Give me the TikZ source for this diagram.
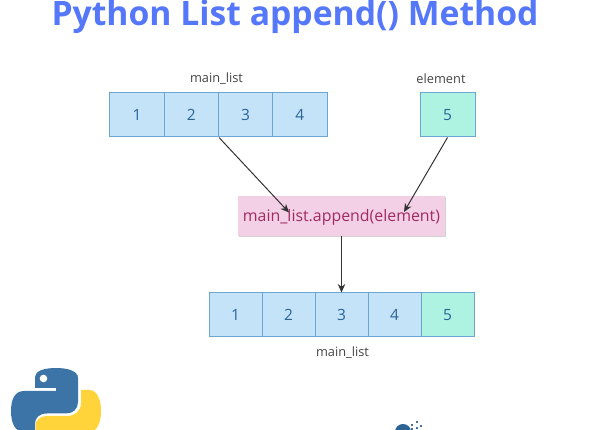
\documentclass[tikz,border=0pt]{standalone}
\usepackage{fontspec}
\setmainfont{Open Sans}
\usetikzlibrary{arrows.meta,shadows}
\definecolor{cellfill}{HTML}{C4E3F9}
\definecolor{celledge}{HTML}{6CA5CF}
\definecolor{celltext}{HTML}{2C6496}
\definecolor{greenfill}{HTML}{AEF2E2}
\definecolor{pinkfill}{HTML}{F4D0E6}
\definecolor{pinktext}{HTML}{A02C62}
\definecolor{titleblue}{HTML}{5577FA}
\definecolor{labeltext}{HTML}{444444}
\definecolor{pyblue}{HTML}{3C74A8}
\definecolor{pyyellow}{HTML}{FFD43B}
\tikzset{
  cellbox/.style={draw=celledge,line width=1pt,fill=cellfill,text=celltext,inner sep=0pt,minimum height=44pt,font=\fontsize{15.5}{18}\selectfont},
  wide/.style={cellbox,minimum width=54.25pt},
  narrow/.style={cellbox,minimum width=53pt},
  greencell/.style={fill=greenfill},
  listlabel/.style={text=labeltext,font=\fontsize{12.8}{15}\selectfont},
  callbox/.style={fill=pinkfill,text=pinktext,inner sep=0pt,minimum width=207pt,minimum height=40pt,font=\fontsize{15.9}{18}\selectfont,
    drop shadow={shadow xshift=0.6pt,shadow yshift=-1.5pt,fill=black!35,opacity=0.5}},
  flow/.style={draw=black!80,line width=1pt,-{Stealth[length=8.5pt,width=7.5pt]}},
  titletext/.style={text=titleblue,font=\bfseries\fontsize{33.7}{38}\selectfont}
}
\begin{document}
\begin{tikzpicture}[x=1pt,y=-1pt]
\useasboundingbox (0,0) rectangle (590,430);
\clip (0,0) rectangle (590,430);
\node[titletext,anchor=base] (title) at (295,26) {Python List append() Method};
\node[listlabel] (toplabel) at (216.5,79) {main\_list};
\node[listlabel] (ellabel) at (441,78.5) {element};
\node[wide] (a1) at (137.1,115) {1};
\node[wide] (a2) at (191.4,115) {2};
\node[wide] (a3) at (245.6,115) {3};
\node[wide] (a4) at (299.9,115) {4};
\node[cellbox,greencell,minimum width=55pt] (el) at (447.5,115) {5};
\node[callbox,text height=14pt] (call) at (341.5,216) {main\_list.append(element)};
\node[narrow] (b1) at (235.5,315) {1};
\node[narrow] (b2) at (288.5,315) {2};
\node[narrow] (b3) at (341.5,315) {3};
\node[narrow] (b4) at (394.5,315) {4};
\node[narrow,greencell] (b5) at (447.5,315) {5};
\node[listlabel] (botlabel) at (342.5,352.5) {main\_list};
\coordinate (t1) at (289,212.5);
\coordinate (t2) at (404,212);
\draw[flow] (a2.south east) -- (t1);
\draw[flow] (el.south) -- (t2);
\draw[flow] (call.south) -- (b3.north);
% python logo
\fill[pyblue] (35,388) -- (35,377) .. controls (35,371) and (44,368) .. (56,368)
  .. controls (68,368) and (78,371) .. (78,378) -- (78,402)
  .. controls (78,409) and (73,413.5) .. (66,413.5) -- (47,413.5)
  .. controls (39,413.5) and (35,418) .. (35,424) -- (35,432) -- (24,432)
  .. controls (15,432) and (11,423) .. (11,411)
  .. controls (11,399) and (15,391) .. (24,391) -- (56,391) -- (56,388) -- cycle;
\fill[white] (43.5,378.5) circle (3.8);
\fill[pyyellow] (81,390) -- (89,390) .. controls (97,390) and (101,399) .. (101,411)
  .. controls (101,423) and (97,432) .. (89,432) -- (35.5,432) -- (35.5,426)
  .. controls (35.5,420) and (40,416) .. (47,416) -- (67,416)
  .. controls (75,416) and (81,411) .. (81,403) -- cycle;
% second logo fragment
\fill[celltext] (395,432) .. controls (395,427) and (399,424) .. (403,424) .. controls (407,424) and (411,427) .. (411,432) -- cycle;
\foreach \px/\py in {412/425,417/422,421/426,417/428,412/429}
  \fill[celltext!90] (\px-1.4,\py-1.4) rectangle (\px+1.4,\py+1.4);
\end{tikzpicture}
\end{document}
